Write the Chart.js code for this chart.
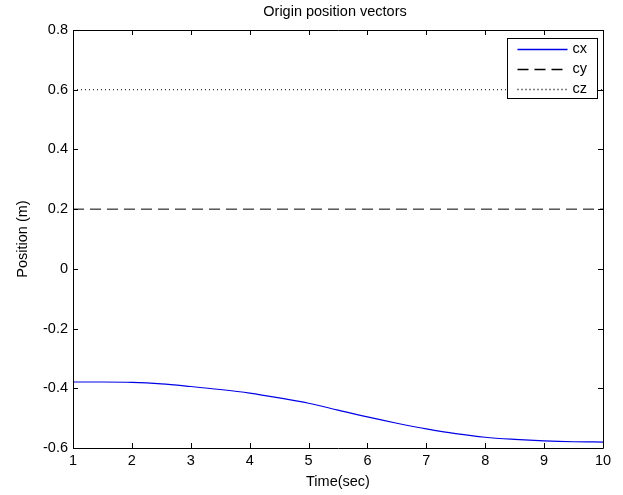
<!DOCTYPE html>
<html>
<head>
<meta charset="utf-8">
<script src="https://cdn.jsdelivr.net/npm/chart.js@4.4.1/dist/chart.umd.min.js"></script>
<style>
  html, body { margin: 0; padding: 0; background: #fff; }
  #wrap { width: 623px; height: 495px; }
</style>
</head>
<body>
<div id="wrap"><canvas id="c" width="623" height="495"></canvas></div>
<script>
// ---- data ----
const timeValues = [1, 1.5, 2, 2.5, 3, 3.5, 4, 4.5, 5, 5.5, 6, 6.5, 7, 7.5, 8, 8.5, 9, 9.5, 10];
const cxValues = [-0.379, -0.379, -0.380, -0.385, -0.394, -0.404, -0.416, -0.432, -0.450, -0.473, -0.496, -0.517, -0.536, -0.552, -0.564, -0.571, -0.576, -0.579, -0.580];
const cyValues = [0.2, 0.2];
const czValues = [0.6, 0.6];
const cyczTimes = [1, 10];
const xTickValues = [1, 2, 3, 4, 5, 6, 7, 8, 9, 10];
const xTickLabels = ['1', '2', '3', '4', '5', '6', '7', '8', '9', '10'];
const yTickValues = [-0.6, -0.4, -0.2, 0, 0.2, 0.4, 0.6, 0.8];
const yTickLabels = ['-0.6', '-0.4', '-0.2', '0', '0.2', '0.4', '0.6', '0.8'];
const seriesLabels = ['cx', 'cy', 'cz'];
const seriesColors = ['#0000e6', '#000000', '#000000'];
const titleText = 'Origin position vectors';
const xTitle = 'Time(sec)';
const yTitle = 'Position (m)';

const FONT = "'Liberation Sans', Arial, sans-serif";
const FSIZE = 14.5;

const toXY = (xs, ys) => xs.map((x, i) => ({ x: x, y: ys[i] }));

// box + inward ticks
const boxPlugin = {
  id: 'boxTicks',
  afterDatasetsDraw(chart) {
    const { ctx, chartArea: a, scales } = chart;
    const tl = 5;
    ctx.save();
    ctx.strokeStyle = '#000';
    ctx.lineWidth = 1;
    ctx.setLineDash([]);
    ctx.beginPath();
    ctx.rect(Math.round(a.left) + 0.5, Math.round(a.top) + 0.5, Math.round(a.right - a.left), Math.round(a.bottom - a.top));
    xTickValues.forEach(v => {
      const px = Math.round(scales.x.getPixelForValue(v)) + 0.5;
      ctx.moveTo(px, a.bottom); ctx.lineTo(px, a.bottom - tl);
      ctx.moveTo(px, a.top); ctx.lineTo(px, a.top + tl);
    });
    yTickValues.forEach(v => {
      const py = Math.round(scales.y.getPixelForValue(v)) + 0.5;
      ctx.moveTo(a.left, py); ctx.lineTo(a.left + tl, py);
      ctx.moveTo(a.right, py); ctx.lineTo(a.right - tl, py);
    });
    ctx.stroke();
    ctx.restore();
  }
};

// title centred over the plot area, legend box inside the plot
const legendPlugin = {
  id: 'matLegend',
  afterDraw(chart) {
    const { ctx, chartArea: a } = chart;
    ctx.save();
    ctx.font = FSIZE + 'px ' + FONT;
    ctx.fillStyle = '#000';
    ctx.textAlign = 'center';
    ctx.textBaseline = 'middle';
    ctx.fillText(titleText, (a.left + a.right) / 2 - 3, a.top - 18);

    const w = 90, h = 60;
    const bx = Math.round(a.right - 6 - w) + 0.5, by = Math.round(a.top + 8) + 0.5;
    ctx.fillStyle = '#fff';
    ctx.fillRect(bx, by, w, h);
    ctx.strokeStyle = '#000';
    ctx.lineWidth = 1;
    ctx.setLineDash([]);
    ctx.strokeRect(bx, by, w, h);
    ctx.textAlign = 'left';
    chart.data.datasets.forEach((ds, i) => {
      const y = Math.round(by + 10 + i * 20);
      ctx.save();
      ctx.beginPath();
      ctx.strokeStyle = seriesColors[i];
      ctx.lineWidth = 1.5;
      ctx.setLineDash(ds.borderDash || []);
      ctx.moveTo(bx + 10, y + 0.5);
      ctx.lineTo(bx + 60, y + 0.5);
      ctx.stroke();
      ctx.restore();
      ctx.fillStyle = '#000';
      ctx.fillText(ds.label, bx + 65, y);
    });
    ctx.restore();
  }
};

new Chart(document.getElementById('c'), {
  type: 'scatter',
  data: {
    datasets: [
      { label: seriesLabels[0], data: toXY(timeValues, cxValues), showLine: true, borderColor: seriesColors[0], borderWidth: 1.2, pointRadius: 0, cubicInterpolationMode: 'monotone', fill: false },
      { label: seriesLabels[1], data: toXY(cyczTimes, cyValues), showLine: true, borderColor: seriesColors[1], borderWidth: 1, borderDash: [11, 6], pointRadius: 0, fill: false },
      { label: seriesLabels[2], data: toXY(cyczTimes, czValues), showLine: true, borderColor: seriesColors[2], borderWidth: 1, borderDash: [1, 3], pointRadius: 0, fill: false }
    ]
  },
  options: {
    responsive: false,
    animation: false,
    devicePixelRatio: 1,
    layout: { padding: { left: 0, right: 20, top: 30, bottom: 0 } },
    plugins: {
      legend: { display: false },
      tooltip: { enabled: false },
      title: { display: false }
    },
    scales: {
      x: {
        type: 'linear', min: 1, max: 10,
        afterBuildTicks: s => { s.ticks = xTickValues.map(v => ({ value: v })); },
        afterFit: s => { s.height = 47; },
        grid: { display: false, drawTicks: false },
        border: { display: false },
        ticks: {
          color: '#000', padding: 4, maxRotation: 0, autoSkip: false,
          font: { family: FONT, size: FSIZE },
          callback: (v) => xTickLabels[xTickValues.indexOf(v)]
        },
        title: { display: true, text: xTitle, color: '#000', font: { family: FONT, size: FSIZE }, padding: { top: 0, bottom: 4 } }
      },
      y: {
        type: 'linear', min: -0.6, max: 0.8,
        afterBuildTicks: s => { s.ticks = yTickValues.map(v => ({ value: v })); },
        afterFit: s => { s.width = 73; },
        grid: { display: false, drawTicks: false },
        border: { display: false },
        ticks: {
          color: '#000', padding: 5, autoSkip: false,
          font: { family: FONT, size: FSIZE },
          callback: (v) => {
            const i = yTickValues.findIndex(t => Math.abs(t - v) < 1e-9);
            return i >= 0 ? yTickLabels[i] : '';
          }
        },
        title: { display: true, text: yTitle, color: '#000', font: { family: FONT, size: FSIZE }, padding: { top: 14, bottom: 0 } }
      }
    }
  },
  plugins: [boxPlugin, legendPlugin]
});
</script>
</body>
</html>
